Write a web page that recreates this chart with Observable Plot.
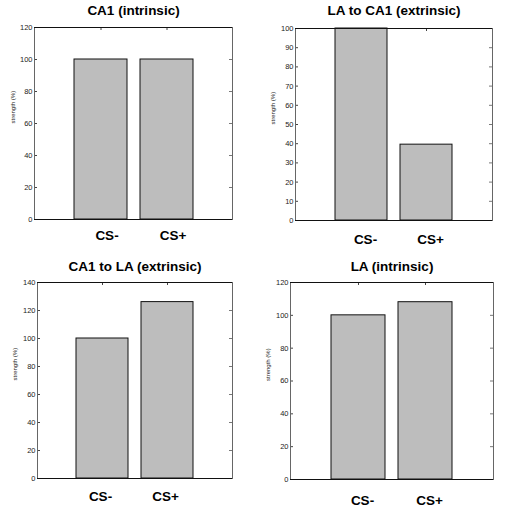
<!DOCTYPE html>
<html>
<head>
<meta charset="utf-8">
<script src="https://cdn.jsdelivr.net/npm/d3@7"></script>
<script src="https://cdn.jsdelivr.net/npm/@observablehq/plot@0.6"></script>
<style>
  html, body { margin: 0; padding: 0; background: #fff; }
  #wrap { position: relative; width: 506px; height: 513px; overflow: hidden; }
  .panel { position: absolute; }
</style>
</head>
<body>
<div id="wrap"></div>
<script>
// ---- data ----
const categories = ["CS-", "CS+"];
const titles = ["CA1 (intrinsic)", "LA to CA1 (extrinsic)", "CA1 to LA (extrinsic)", "LA (intrinsic)"];
const ca1Intrinsic = [100, 100];
const laToCa1 = [100, 39.5];
const ca1ToLa = [100, 126];
const laIntrinsic = [100, 108];
const yTicks1 = [0, 20, 40, 60, 80, 100, 120];
const yTicks2 = [0, 10, 20, 30, 40, 50, 60, 70, 80, 90, 100];
const yTicks3 = [0, 20, 40, 60, 80, 100, 120, 140];
const yTicks4 = [0, 20, 40, 60, 80, 100, 120];
const yLabel = "strength (%)";

// ---- layout ----
const panels = [
  {values: ca1Intrinsic, ticks: yTicks1, left: 0,   top: 0,   w: 253, h: 256, mL: 34, mR: 21, mT: 27, mB: 37, lab: 13, xdx: 6,  xpad: 11},
  {values: laToCa1,      ticks: yTicks2, left: 253, top: 0,   w: 253, h: 256, mL: 42, mR: 14, mT: 28, mB: 36, lab: 20, xdx: 4,  xpad: 14},
  {values: ca1ToLa,      ticks: yTicks3, left: 0,   top: 256, w: 253, h: 257, mL: 37, mR: 21, mT: 26, mB: 35, lab: 15, xdx: -2, xpad: 13},
  {values: laIntrinsic,  ticks: yTicks4, left: 253, top: 256, w: 253, h: 257, mL: 37, mR: 13, mT: 26, mB: 34, lab: 15, xdx: 4,  xpad: 16}
];

const wrap = document.getElementById("wrap");
panels.forEach((p, i) => {
  const data = categories.map((c, k) => ({cat: c, value: p.values[k]}));
  const fw = p.w - p.mL - p.mR;
  const fh = p.h - p.mT - p.mB;
  const ymax = p.ticks[p.ticks.length - 1];
  const chart = Plot.plot({
    width: p.w,
    height: p.h,
    marginLeft: p.mL,
    marginRight: p.mR,
    marginTop: p.mT,
    marginBottom: p.mB,
    style: {fontFamily: "'Liberation Sans', Arial, sans-serif", background: "#fff", color: "#000"},
    x: {type: "band", domain: categories, paddingInner: 0.2, paddingOuter: 0.6, axis: null},
    y: {domain: [0, ymax], axis: null},
    marks: [
      // inward tick marks (left / right / top / bottom)
      Plot.tickY(p.ticks, {y: d => d, stroke: "#444", insetRight: fw - 3}),
      Plot.tickY(p.ticks, {y: d => d, stroke: "#777", insetLeft: fw - 3}),
      Plot.tickX(categories, {x: d => d, stroke: "#444", insetBottom: fh - 3}),
      Plot.barY(data, {x: "cat", y: "value", fill: "#bdbdbd", stroke: "#111", strokeWidth: 1}),
      Plot.frame({stroke: "#666"}),
      Plot.ruleY([0, ymax], {stroke: "#111"}),
      Plot.axisY(p.ticks, {tickSize: 0, tickPadding: 2, fontSize: 7.5, label: null, fill: "#222"}),
      Plot.axisX(categories, {tickSize: 0, tickPadding: p.xpad, fontSize: 13.5, fontWeight: "bold", label: null, dx: p.xdx}),
      Plot.text([yLabel], {frameAnchor: "left", dx: p.lab - p.mL, rotate: -90, fontSize: 6, fill: "#222"}),
      Plot.text([titles[i]], {frameAnchor: "top", dy: 10 - p.mT, fontSize: 13.5, fontWeight: "bold", lineAnchor: "middle"})
    ]
  });
  const div = document.createElement("div");
  div.className = "panel";
  div.style.left = p.left + "px";
  div.style.top = p.top + "px";
  div.appendChild(chart);
  wrap.appendChild(div);
});
</script>
</body>
</html>
